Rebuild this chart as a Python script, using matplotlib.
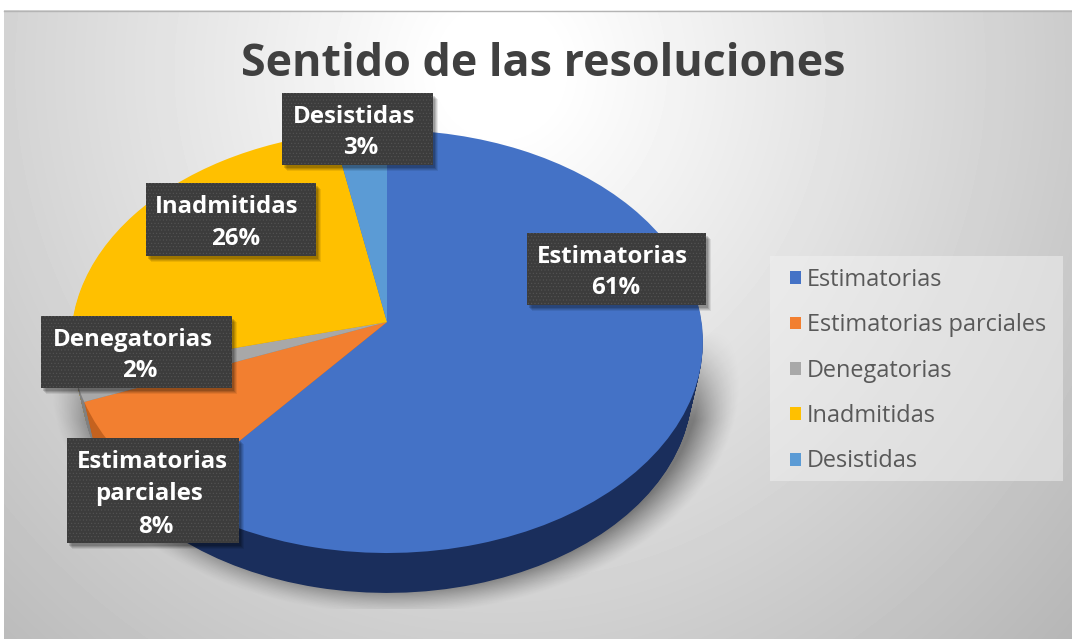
import numpy as np
import matplotlib
matplotlib.use("Agg")
import matplotlib.pyplot as plt
from matplotlib.patches import Rectangle
from matplotlib.transforms import Transform

# DATA
names = ["Estimatorias", "Estimatorias parciales", "Denegatorias", "Inadmitidas", "Desistidas"]
values = [61, 8, 2, 26, 3]
title = "Sentido de las resoluciones"
box_lines = [
    ["Estimatorias", "61%"],
    ["Estimatorias", "parciales", "8%"],
    ["Denegatorias", "2%"],
    ["Inadmitidas", "26%"],
    ["Desistidas", "3%"],
]

# STYLE
top_colors = ["#4472C6", "#F27F30", "#A8A8A8", "#FFC000", "#5B9BD5"]
side_colors = ["#1A2E5C", "#C4621F", "#808080", "#C89600", "#3F76A8"]
boxes = [(527, 233, 706, 305), (67, 438, 239, 543), (41, 316, 232, 388), (146, 183, 316, 256), (282, 93, 433, 165)]
line_x = [[612, 616], [152, 149, 156], [133, 140], [227, 236], [354, 361]]
line_y = [[257, 288], [462, 494, 527], [340, 371], [207, 239], [117, 148]]
W, H = 1072, 639
APEX = (387, 322)
TILT = 0.0922


class Perspective(Transform):
    """Unit circle of the pie -> figure pixels, far side smaller."""
    input_dims = 2
    output_dims = 2

    def __init__(self, dy=0.0, scale=1.0):
        super().__init__()
        self.dy = dy
        self.scale = scale

    def transform_non_affine(self, xy):
        xy = np.asarray(xy, dtype=float)
        w = 1 + TILT * xy[:, 1]
        px = APEX[0] + self.scale * 314.6 * xy[:, 0] / w
        py = APEX[1] + self.dy - self.scale * 209.7 * xy[:, 1] / w
        return np.column_stack([px, py])


def draw_pie(ax, colors, dy=0.0, scale=1.0, z=3):
    wedges, _ = ax.pie(values, colors=colors, startangle=90, counterclock=False)
    for w in wedges:
        w.set_transform(Perspective(dy, scale) + ax.transData)
        w.set_zorder(z)
        w.set_linewidth(0)
    return wedges


def main():
    plt.rcParams["font.family"] = ["Open Sans", "DejaVu Sans"]
    plt.rcParams["hatch.linewidth"] = 0.4
    fig = plt.figure(figsize=(W / 100, H / 100), dpi=100, facecolor="white")
    ax = fig.add_axes([0, 0, 1, 1])

    # fondo gris con degradado radial
    yy, xx = np.mgrid[10:H, 4:W]
    d = np.hypot((xx - 500) / 0.95, (yy - 70) * 1.0)
    gray = np.clip(255 - 0.095 * np.clip(d - 60, 0, None), 0, 255) / 255
    ax.imshow(gray, cmap="gray", vmin=0, vmax=1, extent=(4, W, H, 10), aspect="auto", zorder=0)
    ax.plot([4, W], [10.5, 10.5], color="#b4b4b4", lw=1, zorder=1)

    # sombra bajo la tarta
    e = np.hypot((xx - 395) / 345, (yy - 382) / 232)
    alpha = 0.45 * np.clip((1 - e) / 0.12, 0, 1) ** 1.3 * np.clip((yy - 330) / 90, 0, 1)
    alpha[yy > 608] = 0
    shadow = np.zeros(alpha.shape + (4,))
    shadow[..., 3] = alpha
    ax.imshow(shadow, extent=(4, W, H, 10), aspect="auto", zorder=1)

    # lateral y tapa
    for dy in np.arange(48, 0, -1.0):
        draw_pie(ax, side_colors, dy=dy, scale=1 - 0.035 * dy / 48, z=2)
    wedges = draw_pie(ax, top_colors, z=3)

    ax.text(543, 64, title, ha="center", va="center", fontsize=32.3, fontweight="bold", color="#404040", zorder=6)

    # etiquetas
    for box, lines, xs, ys in zip(boxes, box_lines, line_x, line_y):
        x0, y0, x1, y1 = box
        for off, a in [(6, 0.08), (5, 0.1), (4, 0.12), (3, 0.15)]:
            ax.add_patch(Rectangle((x0 + off - 1, y0 + off), x1 - x0, y1 - y0, fc="black", ec="none", alpha=a, zorder=4))
        ax.add_patch(Rectangle((x0, y0), x1 - x0, y1 - y0, fc="#3C3C3C", ec="#555555", hatch=".....", lw=0, zorder=5))
        for s, tx, ty in zip(lines, xs, ys):
            ax.text(tx, ty, s, ha="center", va="center", fontsize=17.3, fontweight="bold", color="white", zorder=6)

    # leyenda
    ax.add_patch(Rectangle((770, 256), 293, 225, fc="#F2F2F2", ec="none", alpha=0.5, zorder=4))
    leg = ax.legend(wedges, names, loc="upper left", bbox_to_anchor=(790 / W, 1 - 268 / H), borderaxespad=0,
                    fontsize=16.9, labelcolor="#595959", handlelength=0.47, handleheight=0.47, handletextpad=0.25,
                    labelspacing=0.91, frameon=False, borderpad=0)
    leg.set_zorder(5)

    ax.set_aspect("auto")
    ax.set_xlim(0, W)
    ax.set_ylim(H, 0)
    ax.set_axis_off()
    fig.savefig("out.png", dpi=100, facecolor="white")


if __name__ == "__main__":
    main()
